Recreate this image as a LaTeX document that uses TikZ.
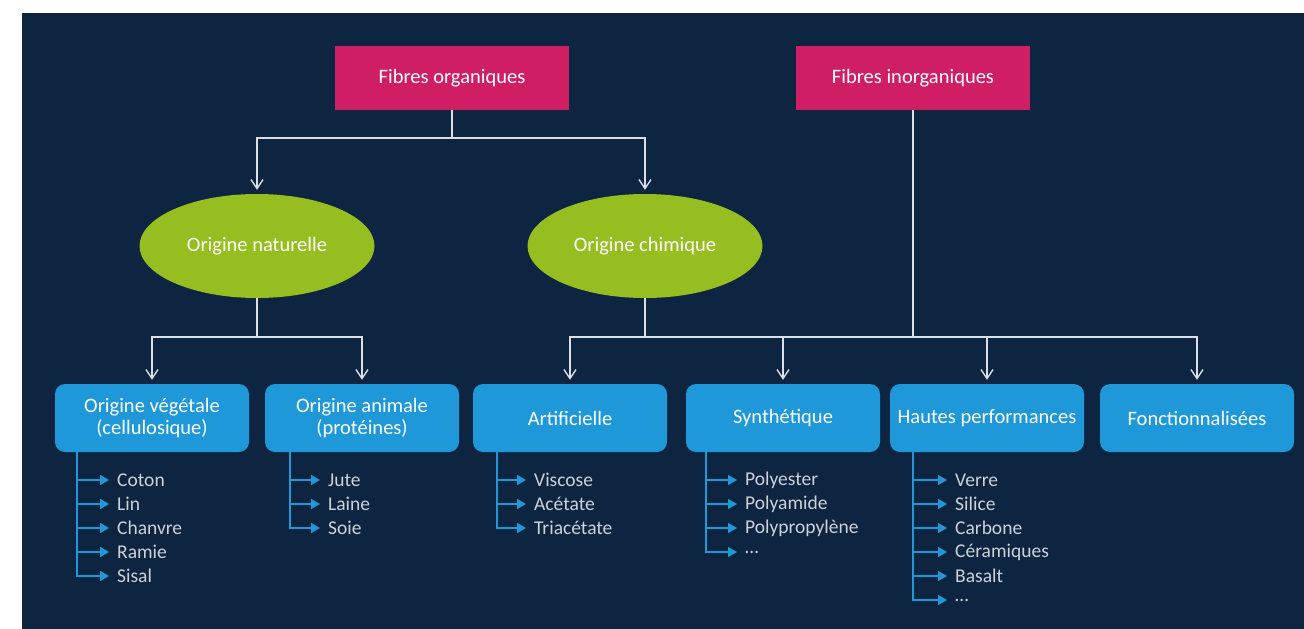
\documentclass[tikz,border=0pt]{standalone}
\usepackage{fontspec}
\setmainfont{Carlito}
\usetikzlibrary{shapes.geometric,arrows.meta}

\definecolor{navy}{RGB}{13,37,64}
\definecolor{fuchsia}{RGB}{208,30,100}
\definecolor{lime}{RGB}{150,190,32}
\definecolor{sky}{RGB}{30,152,216}
\definecolor{ash}{RGB}{205,210,216}
\definecolor{wire}{RGB}{220,224,230}

\tikzset{
  pinkbox/.style={fill=fuchsia, text=white, minimum width=234, minimum height=64,
    inner sep=0, font=\fontsize{20.5}{22}\selectfont},
  ovalbox/.style={ellipse, fill=lime, text=white, minimum width=235, minimum height=104,
    inner sep=0, font=\fontsize{20.5}{22}\selectfont},
  bluebox/.style={fill=sky, text=white, rounded corners=10, minimum width=194,
    minimum height=68, inner sep=0, align=center, font=\fontsize{20.5}{22}\selectfont},
  item/.style={anchor=west, text=ash, inner sep=0, font=\fontsize{19.5}{21}\selectfont},
  tree/.style={draw=wire, line width=1.6},
  branch/.style={tree, -{Straight Barb[length=9,width=12,line width=1.4]}, shorten >=4},
  leaf/.style={draw=sky, line width=1.6, -{Triangle[length=9,width=10]}, shorten >=8}
}

\begin{document}
\begin{tikzpicture}[x=1pt,y=-1pt]
  \useasboundingbox (0,0) rectangle (1304,629);
  \fill[white] (0,0) rectangle (1304,629);
  \fill[navy] (22,13) rectangle (1304,629);

  % top level
  \node[pinkbox] (org) at (452,78) {Fibres organiques};
  \node[pinkbox] (inorg) at (913,78) {Fibres inorganiques};

  \node[ovalbox] (nat) at (257,246) {Origine naturelle};
  \node[ovalbox] (chim) at (645,246) {Origine chimique};

  \node[bluebox] (veg) at (152,418) {Origine végétale\\(cellulosique)};
  \node[bluebox] (anim) at (362,418) {Origine animale\\(protéines)};
  \node[bluebox] (arti) at (570,418) {Artificielle};
  \node[bluebox] (synth) at (783,418) {Synthétique};
  \node[bluebox] (haut) at (987,418) {Hautes performances};
  \node[bluebox] (fonct) at (1197,418) {Fonctionnalisées};

  % connectors
  \coordinate (jorg) at (452,138);
  \draw[tree] (org) -- (jorg);
  \draw[branch] (jorg) -| (nat);
  \draw[branch] (jorg) -| (chim);

  \coordinate (jnat) at (257,337);
  \draw[tree] (nat) -- (jnat);
  \draw[branch] (jnat) -| (veg);
  \draw[branch] (jnat) -| (anim);

  \coordinate (jchim) at (645,337);
  \coordinate (jinorg) at (913,337);
  \draw[tree] (chim) -- (jchim);
  \draw[tree] (inorg) -- (jinorg);
  \draw[tree] (jchim) -- (jinorg);
  \draw[branch] (jchim) -| (arti);
  \draw[branch] (jchim) -| (synth);
  \draw[branch] (jinorg) -| (haut);
  \draw[branch] (jinorg) -| (fonct);

  % lists
  \coordinate (vegline) at (77,452);
  \foreach \name/\txt [count=\i] in {coton/Coton, lin/Lin, chanvre/Chanvre, ramie/Ramie, sisal/Sisal}{
    \node[item] (\name) at (117,456+24*\i) {\txt};
    \draw[leaf] (vegline) |- (\name);
  }

  \coordinate (animline) at (290,452);
  \foreach \name/\txt [count=\i] in {jute/Jute, laine/Laine, soie/Soie}{
    \node[item] (\name) at (328,456+24*\i) {\txt};
    \draw[leaf] (animline) |- (\name);
  }

  \coordinate (artiline) at (497,452);
  \foreach \name/\txt [count=\i] in {viscose/Viscose, acetate/Acétate, triacetate/Triacétate}{
    \node[item] (\name) at (534,456+24*\i) {\txt};
    \draw[leaf] (artiline) |- (\name);
  }

  \coordinate (synthline) at (706,452);
  \foreach \name/\txt [count=\i] in {polyester/Polyester, polyamide/Polyamide, polypro/Polypropylène, synthetc/\ldots}{
    \node[item] (\name) at (745,456+24*\i) {\txt};
    \draw[leaf] (synthline) |- (\name);
  }

  \coordinate (hautline) at (913,452);
  \foreach \name/\txt [count=\i] in {verre/Verre, silice/Silice, carbone/Carbone, ceram/Céramiques, basalt/Basalt, hautetc/\ldots}{
    \node[item] (\name) at (955,456+24*\i) {\txt};
    \draw[leaf] (hautline) |- (\name);
  }
\end{tikzpicture}
\end{document}
